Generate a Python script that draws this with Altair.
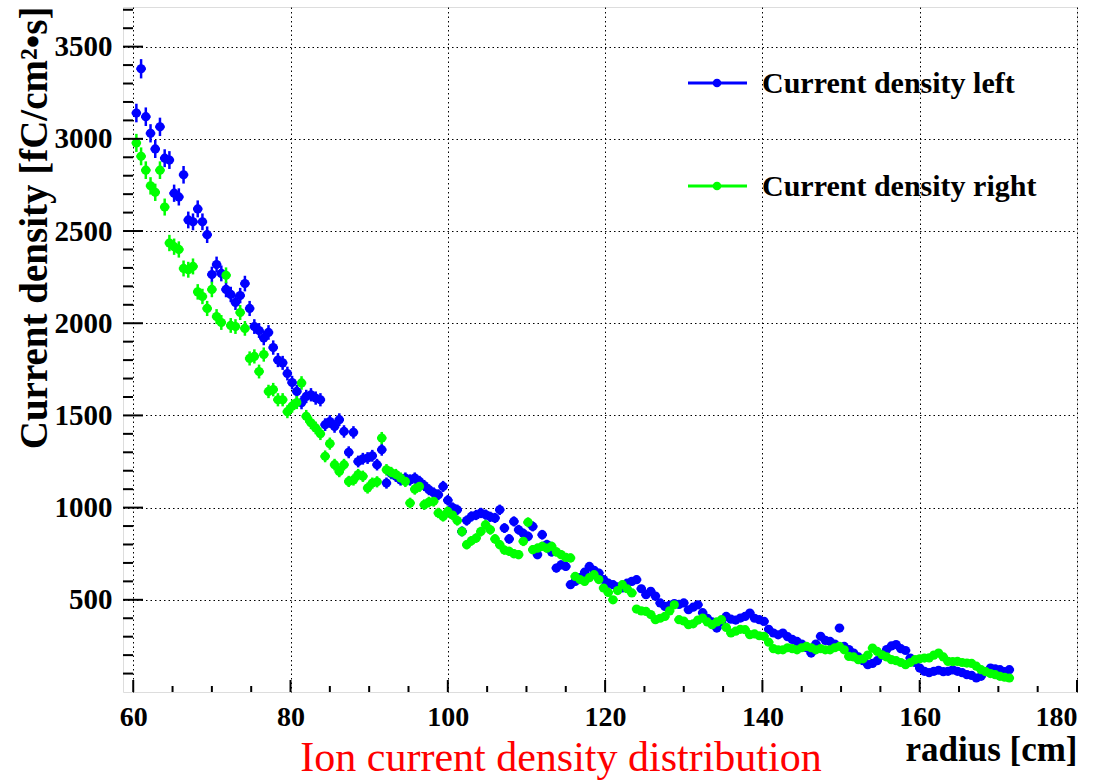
import altair as alt
import pandas as pd

radius = [
    60.4, 61.0, 61.6, 62.2, 62.8, 63.4, 64.0, 64.6, 65.2, 65.8,
    66.4, 67.0, 67.6, 68.2, 68.8, 69.4, 70.0, 70.6, 71.2, 71.8,
    72.4, 73.0, 73.6, 74.2, 74.8, 75.4, 76.0, 76.6, 77.2, 77.8,
    78.4, 79.0, 79.6, 80.2, 80.8, 81.4, 82.0, 82.6, 83.2, 83.8,
    84.4, 85.0, 85.6, 86.2, 86.8, 87.4, 88.0, 88.6, 89.2, 89.8,
    90.4, 91.0, 91.6, 92.2, 92.8, 93.4, 94.0, 94.6, 95.2, 95.8,
    96.4, 97.0, 97.6, 98.2, 98.8, 99.4, 100.0, 100.6, 101.2, 101.8,
    102.4, 103.0, 103.6, 104.2, 104.8, 105.4, 106.0, 106.6, 107.2, 107.8,
    108.4, 109.0, 109.6, 110.2, 110.8, 111.4, 112.0, 112.6, 113.2, 113.8,
    114.4, 115.0, 115.6, 116.2, 116.8, 117.4, 118.0, 118.6, 119.2, 119.8,
    120.4, 121.0, 121.6, 122.2, 122.8, 123.4, 124.0, 124.6, 125.2, 125.8,
    126.4, 127.0, 127.6, 128.2, 128.8, 129.4, 130.0, 130.6, 131.2, 131.8,
    132.4, 133.0, 133.6, 134.2, 134.8, 135.4, 136.0, 136.6, 137.2, 137.8,
    138.4, 139.0, 139.6, 140.2, 140.8, 141.4, 142.0, 142.6, 143.2, 143.8,
    144.4, 145.0, 145.6, 146.2, 146.8, 147.4, 148.0, 148.6, 149.2, 149.8,
    150.4, 151.0, 151.6, 152.2, 152.8, 153.4, 154.0, 154.6, 155.2, 155.8,
    156.4, 157.0, 157.6, 158.2, 158.8, 159.4, 160.0, 160.6, 161.2, 161.8,
    162.4, 163.0, 163.6, 164.2, 164.8, 165.4, 166.0, 166.6, 167.2, 167.8,
    168.4, 169.0, 169.6, 170.2, 170.8, 171.4,
]

density_left = [
    3140, 3380, 3120, 3030, 2945, 3065, 2895, 2885, 2705, 2685,
    2805, 2560, 2550, 2620, 2550, 2480, 2264, 2318, 2270, 2183,
    2156, 2113, 2150, 2215, 2080, 1982, 1960, 1920, 1950, 1868,
    1800, 1785, 1727, 1678, 1630, 1569, 1603, 1612, 1594, 1585,
    1450, 1467, 1440, 1477, 1413, 1300, 1408, 1250, 1265, 1269,
    1281, 1233, 1314, 1133, 1185, 1170, 1150, 1160, 1150, 1160,
    1142, 1120, 1097, 1080, 1070, 1115, 1040, 1000, 988, 871,
    930, 952, 960, 971, 962, 950, 944, 988, 889, 830,
    925, 880, 860, 844, 898, 745, 853, 800, 760, 672,
    690, 681, 582, 600, 620, 650, 681, 660, 645, 610,
    590, 582, 570, 564, 590, 600, 609, 560, 528, 546,
    520, 483, 464, 470, 480, 475, 483, 446, 460, 473,
    430, 400, 380, 347, 380, 410, 395, 390, 401, 410,
    428, 400, 392, 383, 340, 320, 310, 320, 300, 285,
    274, 260, 240, 211, 260, 302, 280, 274, 260, 347,
    247, 230, 211, 190, 170, 148, 155, 170, 200, 230,
    250, 257, 235, 225, 184, 160, 130, 112, 105, 112,
    118, 110, 112, 120, 112, 105, 94, 90, 76, 85,
    110, 130, 125, 121, 110, 121,
]

density_right = [
    2978, 2905, 2830, 2745, 2710, 2830, 2630, 2435, 2415, 2400,
    2297, 2290, 2308, 2170, 2145, 2080, 2183, 2036, 2004, 2260,
    1988, 1982, 2058, 1972, 1809, 1820, 1738, 1830, 1630, 1640,
    1585, 1585, 1520, 1550, 1570, 1676, 1495, 1460, 1432, 1400,
    1278, 1347, 1233, 1196, 1233, 1142, 1150, 1179, 1170, 1106,
    1133, 1140, 1377, 1205, 1190, 1179, 1160, 1142, 1025, 1100,
    1115, 1016, 1030, 1034, 971, 952, 979, 960, 930, 870,
    799, 820, 835, 870, 907, 880, 830, 799, 770, 763,
    750, 745, 817, 920, 772, 780, 790, 780, 790, 760,
    745, 730, 727, 627, 610, 600, 620, 636, 610, 564,
    540, 500, 550, 582, 560, 537, 450, 440, 437, 420,
    392, 400, 410, 440, 473, 392, 385, 365, 370, 390,
    401, 380, 365, 380, 392, 350, 320, 330, 340, 338,
    311, 315, 305, 302, 270, 235, 229, 229, 240, 235,
    229, 240, 247, 240, 229, 235, 229, 229, 240, 247,
    229, 193, 190, 175, 180, 200, 238, 220, 202, 190,
    175, 170, 160, 148, 160, 175, 180, 184, 185, 200,
    211, 190, 166, 165, 166, 160, 157, 155, 140, 121,
    110, 100, 94, 85, 80, 76,
]

series_names = ["Current density left", "Current density right"]
series_colors = ["#0000ff", "#00ff00"]

x_major = [60, 80, 100, 120, 140, 160, 180]
x_minor = [65, 70, 75, 85, 90, 95, 105, 110, 115, 125, 130, 135, 145, 150,
           155, 165, 170, 175]
y_major = [500, 1000, 1500, 2000, 2500, 3000, 3500]
y_minor = [100, 200, 300, 400, 600, 700, 800, 900, 1100, 1200, 1300, 1400,
           1600, 1700, 1800, 1900, 2100, 2200, 2300, 2400, 2600, 2700, 2800,
           2900, 3100, 3200, 3300, 3400, 3600, 3700]

W, H = 954, 685
XDOM = [58.7, 180]
YDOM = [0, 3715]
FONT = "Liberation Serif"

rows = []
for name, vals in zip(series_names, [density_left, density_right]):
    for r, v in zip(radius, vals):
        rows.append({"radius": r, "density": v, "series": name})
df = pd.DataFrame(rows)

xs = alt.Scale(domain=XDOM, nice=False, zero=False)
ys = alt.Scale(domain=YDOM, nice=False, zero=False)
cs = alt.Scale(domain=series_names, range=series_colors)

base = alt.Chart(df).transform_calculate(
    lo="datum.density - 0.9 * sqrt(datum.density)",
    hi="datum.density + 0.9 * sqrt(datum.density)",
    xl="datum.radius - 0.6",
    xh="datum.radius + 0.6",
)

x_axis = alt.Axis(
    values=x_major, grid=True, gridDash=[1.5, 3], gridColor="black",
    gridWidth=1, gridOpacity=1, ticks=False, domain=False,
    labelFont=FONT, labelFontWeight="bold", labelFontSize=28,
    labelColor="black", labelPadding=11, format="d",
    title="radius [cm]", titleFont=FONT, titleFontWeight="bold",
    titleFontSize=35, titleColor="black", titleAnchor="end",
    titleAlign="right", titleX=W, titleY=68, titleBaseline="alphabetic",
)
y_axis = alt.Axis(
    values=y_major, grid=True, gridDash=[1.5, 3], gridColor="black",
    gridWidth=1, gridOpacity=1, ticks=False, domain=False,
    labelFont=FONT, labelFontWeight="bold", labelFontSize=29,
    labelColor="black", labelPadding=11, format="d",
    title="Current density [fC/cm²•s]", titleFont=FONT,
    titleFontWeight="bold", titleFontSize=39, titleColor="black",
    titleAngle=-90, titleAlign="right", titleBaseline="alphabetic",
    titleX=-77, titleY=-1,
)

vbar = base.mark_rule(strokeWidth=2.5).encode(
    x=alt.X("radius:Q", scale=xs, axis=x_axis),
    y=alt.Y("lo:Q", scale=ys, axis=y_axis),
    y2="hi:Q",
    color=alt.Color("series:N", scale=cs, legend=None),
)
hbar = base.mark_rule(strokeWidth=2.5).encode(
    x=alt.X("xl:Q", scale=xs),
    x2="xh:Q",
    y=alt.Y("density:Q", scale=ys),
    color=alt.Color("series:N", scale=cs, legend=None),
)
pts = base.mark_circle(size=85, opacity=1).encode(
    x=alt.X("radius:Q", scale=xs),
    y=alt.Y("density:Q", scale=ys),
    color=alt.Color("series:N", scale=cs, legend=None),
)

# inward ticks
def tick_layer(vals, length, axis):
    d = pd.DataFrame({"v": vals})
    if axis == "x":
        return alt.Chart(d).mark_rule(color="black", strokeWidth=2).encode(
            x=alt.X("v:Q", scale=xs), y=alt.value(H), y2=alt.value(H - length))
    return alt.Chart(d).mark_rule(color="black", strokeWidth=2).encode(
        y=alt.Y("v:Q", scale=ys), x=alt.value(0), x2=alt.value(length))

ticks = [
    tick_layer(x_major, 12, "x"), tick_layer(x_minor, 6, "x"),
    tick_layer(y_major, 20, "y"), tick_layer(y_minor, 10, "y"),
]

# legend
legend_layers = []
for i, (name, col) in enumerate(zip(series_names, series_colors)):
    ly = 76 + i * 103
    one = alt.Data(values=[{"label": name}])
    legend_layers.append(alt.Chart(one).mark_rule(color=col, strokeWidth=3).encode(
        x=alt.value(565), x2=alt.value(624), y=alt.value(ly)))
    legend_layers.append(alt.Chart(one).mark_circle(color=col, size=75, opacity=1).encode(
        x=alt.value(594), y=alt.value(ly)))
    legend_layers.append(alt.Chart(one).mark_text(
        font=FONT, fontWeight="bold", fontSize=30, color="black",
        align="left", baseline="middle").encode(
        x=alt.value(639), y=alt.value(ly + 1), text="label:N"))

caption = alt.Chart(alt.Data(values=[{"t": "Ion current density distribution"}])).mark_text(
    font=FONT, fontSize=42, color="#ff0000", align="center",
    baseline="alphabetic").encode(
    x=alt.value(438), y=alt.value(764), text="t:N")

chart = alt.layer(vbar, hbar, pts, *ticks, *legend_layers, caption).properties(
    width=W, height=H,
    autosize=alt.AutoSizeParams(type="none"),
    padding={"left": 123, "top": 7, "right": 24, "bottom": 89},
).configure_view(stroke="black", strokeWidth=2.5).configure(background="white")

chart.save("out.html", embed_options={"renderer": "svg", "actions": False})
